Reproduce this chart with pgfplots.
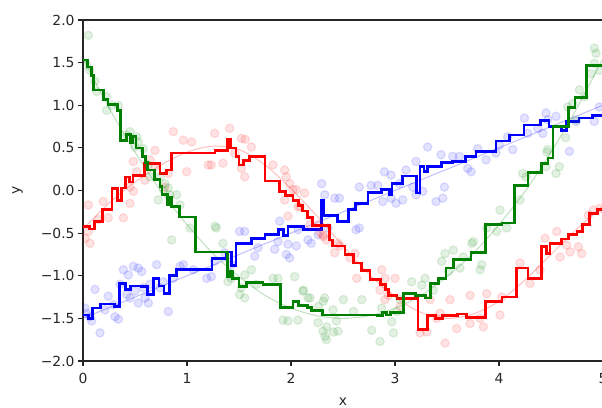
\documentclass[border=0pt]{standalone}
\usepackage{pgfplots}
\pgfplotsset{compat=1.18}
\usepackage{fontspec}
\setmainfont{DejaVu Sans}

\definecolor{mplgreen}{rgb}{0,0.5,0}

% noisy samples
\pgfplotstableread{
x y
0.019 -1.38
0.035 -1.44
0.067 -1.48
0.083 -1.53
0.115 -1.16
0.163 -1.67
0.211 -1.40
0.243 -1.24
0.292 -1.34
0.308 -1.48
0.340 -1.51
0.356 -1.10
0.388 -0.93
0.420 -1.22
0.436 -0.99
0.452 -1.26
0.484 -0.89
0.500 -1.18
0.532 -0.91
0.532 -1.32
0.564 -0.95
0.580 -1.14
0.596 -1.26
0.628 -1.32
0.644 -1.10
0.708 -0.87
0.740 -1.14
0.772 -1.07
0.820 -1.42
0.868 -1.03
0.933 -0.89
0.965 -0.87
1.061 -0.93
1.189 -1.03
1.234 -1.01
1.266 -0.83
1.362 -0.73
1.426 -0.87
1.506 -0.48
1.555 -0.48
1.651 -0.77
1.683 -0.67
1.843 -0.69
1.875 -0.60
1.891 -0.36
1.955 -0.75
1.971 -0.63
1.987 -0.79
2.051 -0.65
2.067 -0.46
2.163 -0.58
2.195 -0.62
2.260 -0.52
2.295 0.08
2.324 -0.05
2.356 -0.44
2.420 -0.09
2.465 -0.09
2.625 -0.46
2.657 -0.44
2.882 -0.13
2.962 -0.09
3.010 -0.15
3.074 -0.11
3.202 -0.05
3.266 -0.01
3.395 -0.13
3.459 -0.09
2.657 0.04
2.770 0.06
2.834 0.06
2.898 0.22
2.962 0.18
3.042 0.08
3.106 0.24
3.170 0.04
3.202 0.34
3.314 0.51
3.443 0.42
3.475 0.04
3.555 0.40
3.619 0.40
3.699 0.26
3.731 0.22
3.795 0.49
3.875 0.36
3.971 0.44
4.004 0.53
4.084 0.63
4.132 0.48
4.244 0.85
4.276 0.67
4.372 0.73
4.420 0.67
4.452 0.91
4.468 0.83
4.548 0.87
4.677 0.46
4.741 0.81
4.917 0.81
4.965 0.98
}\bluepts

\pgfplotstableread{
x y
0.051 -0.17
0.051 -0.48
0.067 -0.62
0.019 -0.56
0.195 -0.13
0.243 -0.32
0.388 -0.32
0.452 -0.15
0.484 -0.01
0.147 -0.34
0.868 0.69
0.965 0.59
1.045 0.57
1.205 0.30
0.997 0.22
0.820 0.20
0.692 0.47
0.484 0.34
0.516 0.22
0.644 0.36
0.692 0.28
0.596 0.12
0.788 0.04
0.452 0.04
1.266 0.67
1.410 0.73
1.523 0.61
1.560 0.60
1.619 0.51
1.234 0.30
1.346 0.32
1.458 0.44
1.523 0.26
1.555 0.16
1.827 0.30
1.939 0.24
1.955 0.16
1.987 0.08
2.051 0.01
1.939 -0.11
2.019 0.01
1.971 -0.30
2.067 -0.19
2.131 -0.03
2.308 -0.52
2.340 -0.58
2.420 -0.73
2.468 -0.65
2.260 -0.40
2.087 -0.19
2.183 -0.40
2.279 -0.50
2.311 -0.54
2.456 -0.62
2.568 -0.79
2.616 -0.74
2.872 -0.93
2.632 -1.03
2.904 -1.03
2.856 -1.17
3.001 -1.03
2.936 -1.23
2.904 -1.28
3.049 -1.36
3.241 -1.67
3.305 -1.66
3.337 -1.28
3.401 -1.50
3.433 -1.44
3.481 -1.79
3.593 -1.62
3.529 -1.28
3.722 -1.23
3.722 -1.56
3.818 -1.50
3.850 -1.60
4.010 -1.46
4.026 -1.25
3.882 -1.21
4.202 -0.85
4.298 -1.09
4.395 -0.93
4.443 -0.56
4.555 -0.48
4.587 -0.78
4.651 -0.64
4.683 -0.72
4.763 -0.66
4.795 -0.74
4.859 -0.29
4.907 -0.23
4.971 -0.21
}\redpts

\pgfplotstableread{
x y
0.051 1.82
0.035 1.47
0.067 1.41
0.115 1.28
0.131 1.16
0.227 1.10
0.227 0.94
0.275 1.00
0.340 1.00
0.452 0.69
0.420 0.65
0.516 0.63
0.532 0.57
0.500 0.51
0.580 0.49
0.628 0.30
0.644 0.16
0.740 0.16
0.788 0.08
0.820 0.03
0.724 -0.11
0.836 -0.05
0.900 -0.05
0.933 -0.17
0.852 -0.58
1.029 -0.44
0.772 0.01
1.270 -0.42
1.282 -0.44
1.346 -0.62
1.426 -1.03
1.394 -1.07
1.523 -1.14
1.555 -1.26
1.506 -1.22
1.555 -0.99
1.667 -1.10
1.827 -1.03
1.875 -1.03
2.035 -1.01
1.923 -1.52
1.971 -1.53
2.115 -1.18
2.163 -1.26
2.260 -1.55
2.308 -1.65
2.340 -1.75
2.324 -1.26
2.404 -1.40
2.436 -1.53
2.452 -1.65
2.067 -1.52
1.619 -0.93
2.119 -1.17
2.183 -1.26
2.263 -1.36
2.311 -1.30
2.343 -1.60
2.327 -1.71
2.407 -1.66
2.504 -1.28
2.600 -1.42
2.680 -1.28
2.776 -1.64
2.856 -1.77
2.872 -1.38
2.969 -1.54
2.985 -1.67
3.017 -1.42
3.049 -1.28
3.161 -1.07
3.257 -1.11
3.289 -1.03
3.369 -1.17
3.449 -0.83
3.513 -0.95
3.481 -0.74
3.561 -0.70
3.625 -0.91
3.657 -0.78
3.738 -0.62
3.754 -0.60
3.818 -0.93
3.834 -0.87
3.882 -0.44
3.978 -0.48
4.010 -0.23
4.074 -0.44
4.202 -0.11
4.228 0.20
4.260 0.16
4.452 0.28
4.468 0.48
4.580 0.28
4.548 0.20
4.661 0.98
4.709 1.02
4.773 1.18
4.741 0.83
4.821 1.10
4.885 1.37
4.917 1.49
4.933 1.61
4.965 1.41
4.917 1.67
4.640 0.62
4.460 0.45
}\greenpts

% fitted step curves (value holds from x to the next x)
\pgfplotstableread{
x y
0.00 -1.46
0.05 -1.50
0.09 -1.38
0.17 -1.33
0.30 -1.36
0.35 -1.09
0.41 -1.16
0.46 -1.12
0.56 -1.13
0.62 -1.22
0.68 -1.03
0.73 -1.12
0.78 -1.21
0.83 -1.00
0.90 -0.93
1.24 -0.80
1.38 -0.72
1.43 -0.88
1.47 -0.62
1.62 -0.56
1.75 -0.52
1.88 -0.46
1.93 -0.53
1.97 -0.42
2.12 -0.46
2.29 -0.12
2.31 -0.29
2.45 -0.36
2.55 -0.22
2.62 -0.15
2.74 -0.02
2.87 0.01
2.95 -0.05
2.97 0.08
3.07 0.17
3.21 -0.03
3.24 0.28
3.28 0.22
3.31 0.28
3.45 0.33
3.55 0.34
3.68 0.40
3.78 0.46
3.88 0.46
3.97 0.58
4.10 0.65
4.24 0.77
4.40 0.82
4.48 0.75
4.60 0.70
4.65 0.81
4.77 0.85
4.90 0.88
5.00 0.88
}\bluestep

\pgfplotstableread{
x y
0.00 -0.42
0.06 -0.45
0.11 -0.36
0.19 -0.22
0.28 0.02
0.33 -0.12
0.37 0.03
0.41 0.16
0.45 0.10
0.48 0.18
0.59 0.32
0.74 0.20
0.80 0.24
0.85 0.44
1.27 0.47
1.39 0.60
1.42 0.50
1.47 0.40
1.50 0.30
1.54 0.35
1.60 0.40
1.75 0.11
1.89 -0.01
1.95 -0.06
2.02 -0.12
2.07 -0.18
2.11 -0.24
2.16 -0.32
2.21 -0.41
2.37 -0.58
2.40 -0.65
2.52 -0.75
2.60 -0.85
2.68 -0.94
2.76 -1.04
2.86 -1.10
2.91 -1.16
2.94 -1.23
3.02 -1.27
3.22 -1.63
3.31 -1.47
3.39 -1.50
3.46 -1.47
3.60 -1.45
3.69 -1.49
3.87 -1.30
4.03 -1.25
4.17 -0.91
4.28 -1.03
4.41 -0.66
4.46 -0.74
4.49 -0.62
4.60 -0.57
4.67 -0.52
4.75 -0.48
4.80 -0.40
4.87 -0.27
4.95 -0.22
5.00 -0.22
}\redstep

\pgfplotstableread{
x y
0.00 1.53
0.04 1.45
0.08 1.35
0.10 1.18
0.20 1.07
0.24 1.01
0.33 0.94
0.36 0.59
0.42 0.66
0.46 0.56
0.48 0.63
0.51 0.50
0.57 0.40
0.60 0.33
0.62 0.24
0.69 0.13
0.74 0.05
0.76 -0.05
0.81 -0.17
0.83 -0.08
0.85 -0.19
0.93 -0.31
1.08 -0.72
1.39 -1.01
1.41 -0.95
1.44 -1.03
1.50 -1.13
1.57 -1.08
1.73 -1.10
1.90 -1.37
2.02 -1.30
2.07 -1.35
2.16 -1.37
2.20 -1.41
2.30 -1.46
2.83 -1.47
2.88 -1.43
2.92 -1.46
2.96 -1.43
3.08 -1.21
3.20 -1.23
3.29 -1.26
3.34 -1.09
3.42 -1.03
3.49 -0.91
3.56 -0.81
3.73 -0.73
3.87 -0.40
4.03 -0.38
4.15 0.06
4.28 0.21
4.41 0.32
4.47 0.38
4.52 0.75
4.67 0.97
4.73 1.09
4.84 1.47
5.00 1.47
}\greenstep

\begin{document}
\begin{tikzpicture}
\begin{axis}[
  at={(0,0)}, anchor=south west,
  scale only axis, width=520pt, height=341pt,
  xmin=0, xmax=5, ymin=-2, ymax=2,
  xtick={0,1,2,3,4,5}, xticklabels={0,1,2,3,4,5},
  ytick={-2,-1.5,-1,-0.5,0,0.5,1,1.5,2},
  yticklabels={−2.0,−1.5,−1.0,−0.5,0.0,0.5,1.0,1.5,2.0},
  xtick pos=lower, ytick pos=left,
  tick align=outside, major tick length=4.9pt,
  tick style={black!85, line width=1.1pt},
  axis line style={black!85, line width=1.1pt},
  ticklabel style={font=\fontsize{13.9}{16}\selectfont, text=black!85},
  xticklabel style={yshift=-3.5pt},
  label style={font=\fontsize{13.9}{16}\selectfont, text=black!85},
  xlabel={x}, ylabel={y},
  xlabel style={at={(axis description cs:0.5,-0.118)}, anchor=center},
  ylabel style={at={(axis description cs:-0.126,0.5)}, anchor=center},
  clip marker paths=true,
]
% blue
\addplot[only marks, mark=*, mark size=4.2pt,
  mark options={fill=blue, draw=blue, fill opacity=0.11, draw opacity=0.11, line width=1.3pt}]
  table {\bluepts};
\addplot[blue, opacity=0.25, line width=1pt] coordinates {(0,-1.5) (5,1.0)};
\addplot[const plot, blue, line width=2.7pt] table {\bluestep};
% red
\addplot[only marks, mark=*, mark size=4.2pt,
  mark options={fill=red, draw=red, fill opacity=0.11, draw opacity=0.11, line width=1.3pt}]
  table {\redpts};
\addplot[red, opacity=0.25, line width=1pt, smooth] coordinates {
  (0,-0.45) (0.25,-0.15) (0.5,0.1) (0.75,0.3) (1.0,0.45) (1.25,0.52) (1.5,0.48)
  (1.75,0.3) (2.0,0.02) (2.25,-0.3) (2.5,-0.65) (2.75,-0.98) (3.0,-1.25)
  (3.25,-1.43) (3.5,-1.5) (3.75,-1.45) (4.0,-1.3) (4.25,-1.05) (4.5,-0.75)
  (4.75,-0.45) (5.0,-0.18)};
\addplot[const plot, red, line width=2.7pt] table {\redstep};
% green
\addplot[only marks, mark=*, mark size=4.2pt,
  mark options={fill=mplgreen, draw=mplgreen, fill opacity=0.11, draw opacity=0.11, line width=1.3pt}]
  table {\greenpts};
\addplot[mplgreen, opacity=0.25, line width=1pt, smooth] coordinates {
  (0,1.55) (0.25,0.97) (0.5,0.45) (0.75,-0.01) (1,-0.40) (1.25,-0.74) (1.5,-1.01)
  (1.75,-1.23) (2,-1.38) (2.25,-1.47) (2.5,-1.50) (2.75,-1.47) (3,-1.38)
  (3.25,-1.23) (3.5,-1.01) (3.75,-0.74) (4,-0.40) (4.25,-0.01) (4.5,0.45)
  (4.75,0.97) (5,1.55)};
\addplot[const plot, mplgreen, line width=2.7pt] table {\greenstep};
\end{axis}
\pgfresetboundingbox
\useasboundingbox (-83pt,-46pt) rectangle (519pt,361pt);
\end{tikzpicture}
\end{document}
